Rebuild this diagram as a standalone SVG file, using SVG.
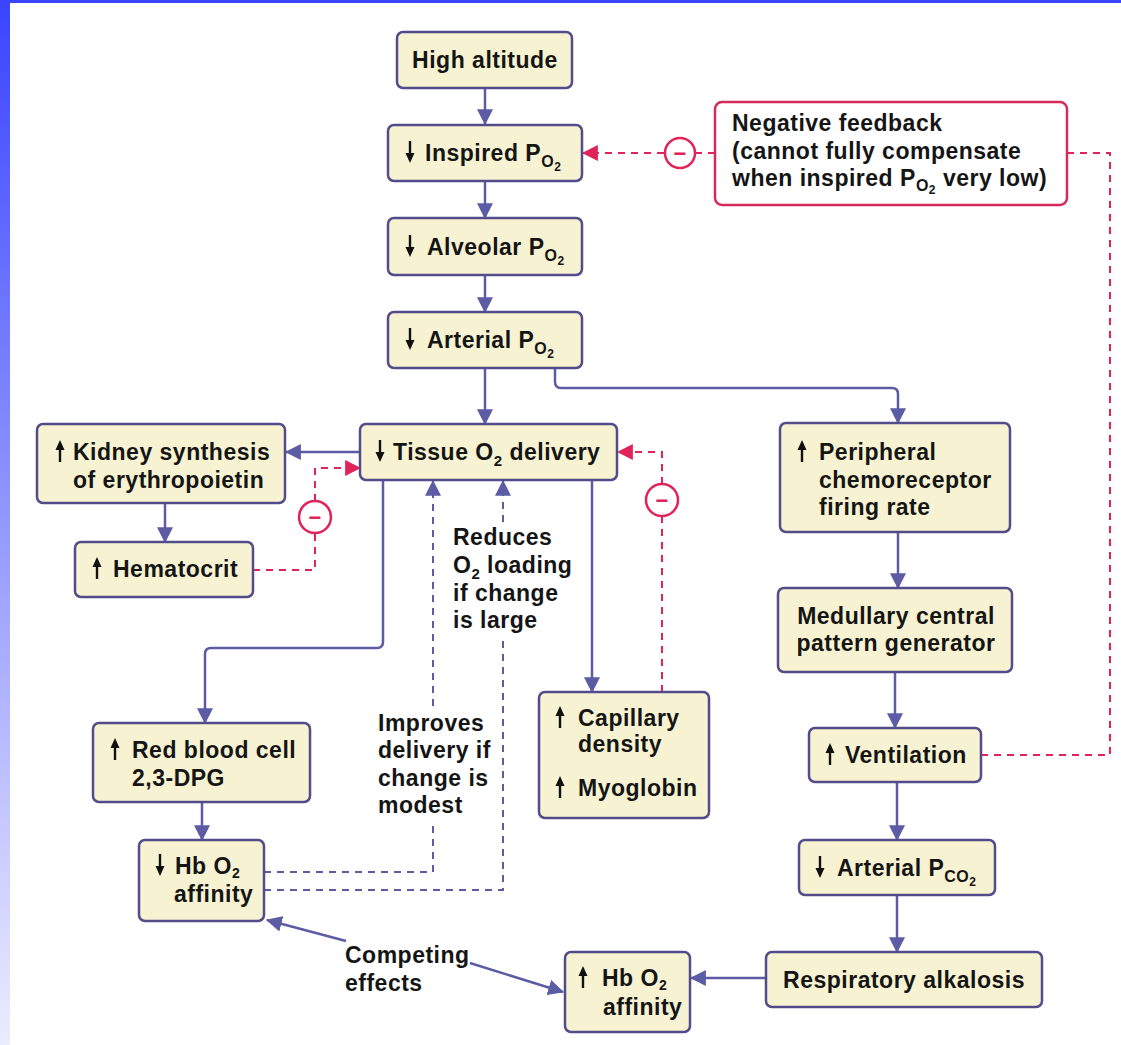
<svg xmlns="http://www.w3.org/2000/svg" xmlns:xlink="http://www.w3.org/1999/xlink" width="1121" height="1045" viewBox="0 0 1121 1045">
<defs>
<linearGradient id="lg" x1="0" y1="0" x2="0" y2="1">
<stop offset="0" stop-color="#3a44ff"/>
<stop offset="1" stop-color="#ececff"/>
</linearGradient>
<marker id="ab" markerUnits="userSpaceOnUse" markerWidth="16" markerHeight="16" viewBox="0 0 14 14" refX="13" refY="7" orient="auto">
<path d="M0,0 L14,7 L0,14 z" fill="#5c5ca4"/>
</marker>
<marker id="ar" markerUnits="userSpaceOnUse" markerWidth="16" markerHeight="16" viewBox="0 0 14 14" refX="13" refY="7" orient="auto">
<path d="M0,0 L14,7 L0,14 z" fill="#e0245a"/>
</marker>
<g id="up"><path d="M0,-11 L-4.5,-1 L4.5,-1 z" fill="#111"/><path d="M0,-3 V11" stroke="#111" stroke-width="2.4"/></g>
<g id="dn"><path d="M0,11 L-4.5,1 L4.5,1 z" fill="#111"/><path d="M0,3 V-11" stroke="#111" stroke-width="2.4"/></g>
</defs>
<style>
.box{fill:#f7f3d2;stroke:#524c8a;stroke-width:2.5}
.rbox{fill:#ffffff;stroke:#d42a5c;stroke-width:2.5}
.t{font-family:"Liberation Sans",Arial,Helvetica,sans-serif;font-weight:bold;font-size:23px;fill:#151515;letter-spacing:0.5px}
.m{text-anchor:middle}
.c{fill:none;stroke:#5c5ca4;stroke-width:2.5}
.d{fill:none;stroke:#5c5ca4;stroke-width:2;stroke-dasharray:7 6}
.r{fill:none;stroke:#e0245a;stroke-width:2;stroke-dasharray:7 6}
.circ{fill:#ffffff;stroke:#e0245a;stroke-width:2.5}
.minus{font-family:"Liberation Sans",Arial,sans-serif;font-weight:bold;font-size:22px;fill:#e0245a;text-anchor:middle}
</style>
<rect x="0" y="0" width="1121" height="1045" fill="#ffffff"/>
<rect x="0" y="0" width="10" height="1045" fill="url(#lg)"/>
<rect x="0" y="0" width="1121" height="3" fill="#3a44ff"/>

<g id="connectors">
<path class="c" d="M485,88 V124" marker-end="url(#ab)"/>
<path class="c" d="M485,180 V218" marker-end="url(#ab)"/>
<path class="c" d="M485,275 V312" marker-end="url(#ab)"/>
<path class="c" d="M485,368 V424" marker-end="url(#ab)"/>
<path class="c" d="M555,368 V382 Q555,388 561,388 H892 Q898,388 898,394 V423" marker-end="url(#ab)"/>
<path class="c" d="M360,452 H286" marker-end="url(#ab)"/>
<path class="c" d="M165,503 V542" marker-end="url(#ab)"/>
<path class="c" d="M383,480 V642 Q383,648 377,648 H211 Q205,648 205,654 V723" marker-end="url(#ab)"/>
<path class="c" d="M202,802 V840" marker-end="url(#ab)"/>
<path class="c" d="M592,480 V692" marker-end="url(#ab)"/>
<path class="c" d="M898,532 V588" marker-end="url(#ab)"/>
<path class="c" d="M895,672 V728" marker-end="url(#ab)"/>
<path class="c" d="M897,782 V840" marker-end="url(#ab)"/>
<path class="c" d="M897,895 V952" marker-end="url(#ab)"/>
<path class="c" d="M766,978 H691" marker-end="url(#ab)"/>
<path class="c" d="M346,941 L267,920" marker-end="url(#ab)"/>
<path class="c" d="M470,963 L563,992" marker-end="url(#ab)"/>
<path class="d" d="M264,872 H433 V826"/>
<path class="d" d="M433,706 V481" marker-end="url(#ab)"/>
<path class="d" d="M264,890 H503 V638"/>
<path class="d" d="M503,522 V481" marker-end="url(#ab)"/>
<path class="r" d="M715,153 H696"/>
<path class="r" d="M664,153 H583" marker-end="url(#ar)"/>
<path class="r" d="M1067,153 H1110 V755 H982"/>
<path class="r" d="M253,570 H315 V533"/>
<path class="r" d="M315,501 V468 H360" marker-end="url(#ar)"/>
<path class="r" d="M662,692 V516"/>
<path class="r" d="M662,484 V452 H618" marker-end="url(#ar)"/>
<circle class="circ" cx="680" cy="153" r="15"/>
<text class="minus" x="680" y="161">−</text>
<circle class="circ" cx="315" cy="517" r="16"/>
<text class="minus" x="315" y="525">−</text>
<circle class="circ" cx="662" cy="500" r="16"/>
<text class="minus" x="662" y="508">−</text>
</g>

<g id="high-altitude">
<rect class="box" x="397" y="32" width="175" height="56" rx="6"/>
<text class="t m" x="485" y="68">High altitude</text>
</g>
<g id="inspired">
<rect class="box" x="388" y="125" width="194" height="56" rx="6"/>
<use xlink:href="#dn" href="#dn" x="410" y="152"/>
<text class="t" x="425" y="161">Inspired P<tspan font-size="16" dy="6">O</tspan><tspan font-size="12" dy="4">2</tspan></text>
</g>
<g id="alveolar">
<rect class="box" x="388" y="218" width="194" height="57" rx="6"/>
<use xlink:href="#dn" href="#dn" x="410" y="246"/>
<text class="t" x="427" y="255">Alveolar P<tspan font-size="16" dy="6">O</tspan><tspan font-size="12" dy="4">2</tspan></text>
</g>
<g id="arterial-po2">
<rect class="box" x="388" y="312" width="194" height="56" rx="6"/>
<use xlink:href="#dn" href="#dn" x="410" y="339"/>
<text class="t" x="427" y="348">Arterial P<tspan font-size="16" dy="6">O</tspan><tspan font-size="12" dy="4">2</tspan></text>
</g>
<g id="negative-feedback">
<rect class="rbox" x="715" y="102" width="352" height="103" rx="7"/>
<text class="t" x="732" y="131">Negative feedback</text>
<text class="t" x="732" y="159">(cannot fully compensate</text>
<text class="t" x="732" y="186">when inspired P<tspan font-size="16" dy="5">O</tspan><tspan font-size="12" dy="3">2</tspan><tspan dy="-8"> very low)</tspan></text>
</g>
<g id="tissue">
<rect class="box" x="360" y="424" width="257" height="56" rx="6"/>
<use xlink:href="#dn" href="#dn" x="380" y="451"/>
<text class="t" x="393" y="460">Tissue O<tspan font-size="15" dy="6">2</tspan><tspan dy="-6"> delivery</tspan></text>
</g>
<g id="kidney">
<rect class="box" x="37" y="424" width="248" height="79" rx="6"/>
<use xlink:href="#up" href="#up" x="60" y="451"/>
<text class="t" x="73" y="460">Kidney synthesis</text>
<text class="t" x="73" y="488">of erythropoietin</text>
</g>
<g id="hematocrit">
<rect class="box" x="75" y="542" width="178" height="55" rx="6"/>
<use xlink:href="#up" href="#up" x="97" y="568"/>
<text class="t" x="113" y="577">Hematocrit</text>
</g>
<g id="rbc-dpg">
<rect class="box" x="93" y="723" width="217" height="79" rx="6"/>
<use xlink:href="#up" href="#up" x="115" y="749"/>
<text class="t" x="132" y="758">Red blood cell</text>
<text class="t" x="132" y="786">2,3-DPG</text>
</g>
<g id="hb-down">
<rect class="box" x="139" y="840" width="125" height="81" rx="6"/>
<use xlink:href="#dn" href="#dn" x="160" y="865"/>
<text class="t" x="175" y="874">Hb O<tspan font-size="14" dy="4">2</tspan></text>
<text class="t" x="174" y="902">affinity</text>
</g>
<g id="capillary">
<rect class="box" x="539" y="692" width="170" height="126" rx="6"/>
<use xlink:href="#up" href="#up" x="560" y="717"/>
<text class="t" x="578" y="726">Capillary</text>
<text class="t" x="578" y="752">density</text>
<use xlink:href="#up" href="#up" x="560" y="787"/>
<text class="t" x="578" y="796">Myoglobin</text>
</g>
<g id="peripheral">
<rect class="box" x="780" y="423" width="230" height="109" rx="6"/>
<use xlink:href="#up" href="#up" x="802" y="451"/>
<text class="t" x="819" y="460">Peripheral</text>
<text class="t" x="819" y="488">chemoreceptor</text>
<text class="t" x="819" y="515">firing rate</text>
</g>
<g id="medullary">
<rect class="box" x="778" y="588" width="234" height="84" rx="6"/>
<text class="t m" x="896" y="624">Medullary central</text>
<text class="t m" x="896" y="651">pattern generator</text>
</g>
<g id="ventilation">
<rect class="box" x="809" y="728" width="172" height="54" rx="6"/>
<use xlink:href="#up" href="#up" x="830" y="754"/>
<text class="t" x="845" y="763">Ventilation</text>
</g>
<g id="arterial-pco2">
<rect class="box" x="799" y="840" width="196" height="55" rx="6"/>
<use xlink:href="#dn" href="#dn" x="820" y="867"/>
<text class="t" x="837" y="876">Arterial P<tspan font-size="16" dy="6">CO</tspan><tspan font-size="12" dy="4">2</tspan></text>
</g>
<g id="resp-alkalosis">
<rect class="box" x="766" y="952" width="276" height="55" rx="6"/>
<text class="t m" x="904" y="988">Respiratory alkalosis</text>
</g>
<g id="hb-up">
<rect class="box" x="565" y="952" width="125" height="80" rx="6"/>
<use xlink:href="#up" href="#up" x="583" y="977"/>
<text class="t" x="602" y="986">Hb O<tspan font-size="14" dy="4">2</tspan></text>
<text class="t" x="603" y="1015">affinity</text>
</g>
<g id="labels">
<text class="t" x="453" y="545">Reduces</text>
<text class="t" x="453" y="573">O<tspan font-size="15" dy="6">2</tspan><tspan dy="-6"> loading</tspan></text>
<text class="t" x="453" y="601">if change</text>
<text class="t" x="453" y="628">is large</text>
<text class="t" x="378" y="731">Improves</text>
<text class="t" x="378" y="758">delivery if</text>
<text class="t" x="378" y="786">change is</text>
<text class="t" x="378" y="813">modest</text>
<text class="t" x="345" y="963">Competing</text>
<text class="t" x="345" y="991">effects</text>
</g>
</svg>
